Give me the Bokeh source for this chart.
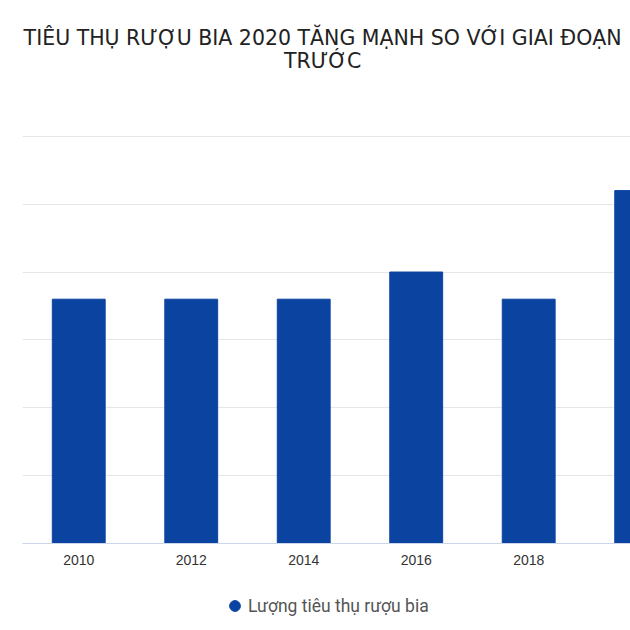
from bokeh.plotting import figure
from bokeh.layouts import column
from bokeh.models import Range1d, FixedTicker, Label, Legend, LegendItem
from bokeh.embed import file_html
from bokeh.resources import INLINE

years = [2010, 2012, 2014, 2016, 2018, 2020]
values = [0.9, 0.9, 0.9, 1.0, 0.9, 1.3]
y_ticks = [0, 0.25, 0.5, 0.75, 1, 1.25, 1.5]
series_name = "Lượng tiêu thụ rượu bia"
title_line1 = "TIÊU THỤ RƯỢU BIA 2020 TĂNG MẠNH SO VỚI GIAI ĐOẠN"
title_line2 = "TRƯỚC"

BAR = "#0b44a0"


def blank_fig(w, h):
    f = figure(width=w, height=h, output_backend="svg", toolbar_location=None,
               x_range=Range1d(0, w), y_range=Range1d(0, h),
               x_axis_location=None, y_axis_location=None, min_border=0)
    f.grid.visible = False
    f.outline_line_color = None
    return f


# --- title strip ---
tf = blank_fig(630, 135)
for txt, yy in [(title_line1, 98), (title_line2, 75)]:
    tf.add_layout(Label(x=311, y=yy, text=txt, text_align="center", text_baseline="middle",
                        text_font="DejaVu Sans", text_font_size="20.5px", text_color="#222222"))

# --- main chart ---
p = figure(frame_width=608, frame_height=408, output_backend="svg", toolbar_location=None,
           x_range=Range1d(2009, 2019.81), y_range=Range1d(0, 1.503),
           min_border_left=22, min_border_right=0, min_border_top=0, min_border_bottom=37)
p.outline_line_color = None
p.vbar(x=years, top=values, width=0.94, color=BAR)

p.yaxis.visible = False
p.ygrid.ticker = FixedTicker(ticks=y_ticks)
p.ygrid.grid_line_color = "#e6e6e6"
p.xgrid.grid_line_color = None

xa = p.xaxis[0]
xa.ticker = FixedTicker(ticks=years)
xa.axis_line_color = "#ccd6eb"
xa.major_tick_line_color = None
xa.minor_tick_line_color = None
xa.major_label_text_font = "Liberation Sans"
xa.major_label_text_font_size = "14px"
xa.major_label_text_color = "#333333"
xa.major_label_standoff = 5

# --- legend strip ---
lf = blank_fig(630, 50)
marker_r = lf.scatter(x=years, y=values, marker="circle", size=11, color=BAR)
marker_r.visible = False
legend = Legend(items=[LegendItem(label=series_name, renderers=[marker_r])],
                orientation="horizontal", location=(199, 11),
                label_text_font="Roboto", label_text_font_size="17.5px",
                label_text_color="#555555", border_line_color=None,
                background_fill_alpha=0, inactive_fill_alpha=0,
                glyph_width=27, glyph_height=27, label_standoff=0, margin=0, padding=0)
lf.add_layout(legend, "center")

layout = column(tf, p, lf, spacing=0)
open("out.html", "w").write(file_html(layout, INLINE))
